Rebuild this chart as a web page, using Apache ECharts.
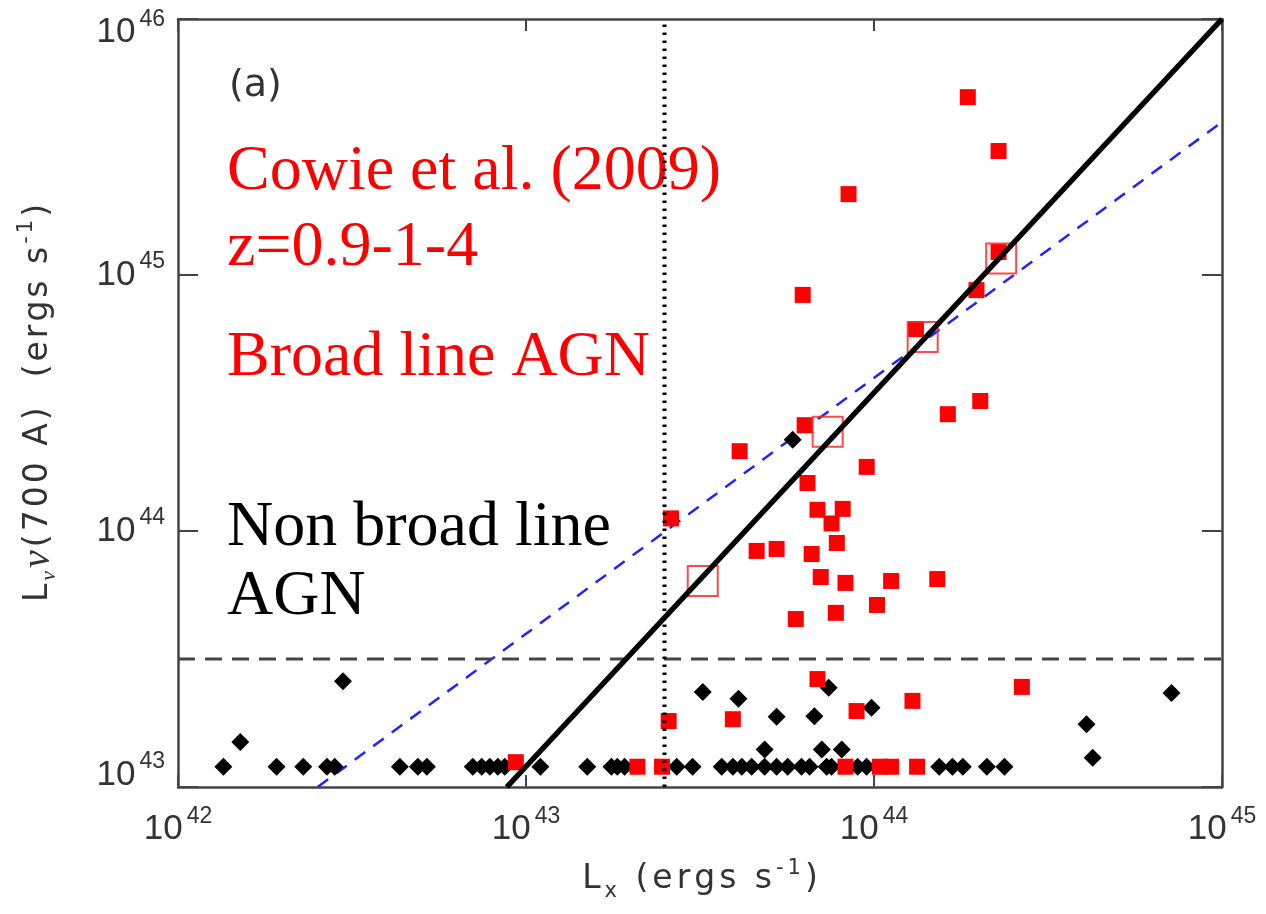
<!DOCTYPE html>
<html>
<head>
<meta charset="utf-8">
<script src="https://cdn.jsdelivr.net/npm/echarts@6/dist/echarts.min.js"></script>
<style>
html,body{margin:0;padding:0;background:#fff;}
#chart{width:1266px;height:914px;}
</style>
</head>
<body>
<div id="chart"></div>
<script>
// ---- data ----
const xTickExponents = [42, 43, 44, 45];
const yTickExponents = [43, 44, 45, 46];

// Broad line AGN (filled red squares): [Lx, Lnu(700A)]
const broadLineAGN = [
  [1.86e44, 4.95e45], [2.28e44, 3.05e45], [8.45e43, 2.07e45], [6.24e43, 8.36e44],
  [2.28e44, 1.23e45], [1.97e44, 8.73e44], [1.32e44, 6.15e44], [1.63e44, 2.86e44],
  [2.02e44, 3.22e44], [6.32e43, 2.59e44], [4.11e43, 2.05e44], [9.53e43, 1.78e44],
  [6.44e43, 1.54e44], [6.88e43, 1.21e44], [8.13e43, 1.22e44], [7.55e43, 1.07e44],
  [2.61e43, 1.12e44], [7.82e43, 8.98e43], [4.60e43, 8.36e43], [5.25e43, 8.51e43],
  [6.62e43, 8.13e43], [7.03e43, 6.61e43], [8.28e43, 6.27e43], [1.12e44, 6.38e43],
  [1.52e44, 6.49e43], [1.02e44, 5.14e43], [7.77e43, 4.79e43], [5.96e43, 4.53e43],
  [6.88e43, 2.64e43], [2.66e44, 2.46e43], [1.29e44, 2.17e43], [8.91e43, 1.98e43],
  [3.93e43, 1.84e43], [2.57e43, 1.81e43], [9.35e42, 1.25e43], [2.09e43, 1.2e43],
  [2.46e43, 1.2e43], [8.28e43, 1.2e43], [1.04e44, 1.2e43], [1.12e44, 1.2e43],
  [1.33e44, 1.2e43]
];

// Open red squares
const openSquares = [
  [3.22e43, 6.38e43], [7.36e43, 2.44e44], [1.38e44, 5.73e44], [2.32e44, 1.16e45]
];

// Non broad line AGN (black diamonds), off the floor
const nonBroadUpper = [
  [5.84e43, 2.27e44], [2.98e42, 2.59e43], [1.51e42, 1.50e43], [3.22e43, 2.35e43],
  [4.08e43, 2.21e43], [5.25e43, 1.88e43], [6.74e43, 1.89e43], [7.41e43, 2.44e43],
  [9.84e43, 2.04e43], [7.16e44, 2.33e43], [4.08e44, 1.76e43], [4.25e44, 1.30e43],
  [4.85e43, 1.40e43], [7.08e43, 1.40e43], [8.08e43, 1.40e43]
];
// Non broad line AGN on the floor level
const floorLevel = 1.2e43;
const nonBroadFloorX = [
  1.35e42, 1.92e42, 2.29e42, 2.68e42, 2.82e42, 4.34e42, 4.89e42, 5.19e42,
  7.03e42, 7.46e42, 7.87e42, 8.30e42, 8.69e42, 1.10e43, 1.50e43, 1.76e43,
  1.83e43, 1.92e43, 2.71e43, 3.01e43, 3.65e43, 3.93e43, 4.17e43, 4.45e43,
  4.85e43, 5.25e43, 5.65e43, 6.19e43, 6.53e43, 7.31e43, 7.55e43, 8.97e43,
  9.52e43, 1.54e44, 1.68e44, 1.80e44, 2.11e44, 2.37e44
];

// Reference lines
const solidRelation = [[8.81e42, 1e43], [1e45, 1e46]];
const blueDashed = [[2.52e42, 1e43], [1e45, 3.96e45]];
const verticalDotted = [[2.5e43, 1e43], [2.5e43, 1e46]];
const horizontalDashed = [[1e42, 3.16e43], [1e45, 3.16e43]];

// ---- chart ----
const nonBroadLineAGN = nonBroadUpper.concat(nonBroadFloorX.map(x => [x, floorLevel]));

const FONT = '"Liberation Sans", Arial, sans-serif';
const WIDE = '"DejaVu Sans", Verdana, sans-serif';
const SERIF = '"Liberation Serif", "Times New Roman", serif';
const labelColor = '#333';

const baseRich = {
  b: {fontSize: 35, fontFamily: FONT, color: labelColor},
  s: {fontSize: 23, fontFamily: FONT, color: labelColor, padding: [0, 0, 26, 4]},
  bl: {fontSize: 35, fontFamily: FONT, color: labelColor, padding: [0, 0, 24, 0]},
  sl: {fontSize: 23, fontFamily: FONT, color: labelColor, padding: [0, 0, 50, 4]},
  bh: {fontSize: 35, fontFamily: FONT, color: labelColor, padding: [27, 0, 0, 0]},
  sh: {fontSize: 23, fontFamily: FONT, color: labelColor, padding: [1, 0, 0, 4]}
};

function xLabel(v) {
  const e = Math.round(Math.log10(v));
  if (xTickExponents.indexOf(e) < 0) return '';
  return '{b|10}{s|' + e + '}';
}
function yLabel(v) {
  const e = Math.round(Math.log10(v));
  if (yTickExponents.indexOf(e) < 0) return '';
  if (e === yTickExponents[0]) return '{bl|10}{sl|' + e + '}';
  if (e === yTickExponents[yTickExponents.length - 1]) return '{bh|10}{sh|' + e + '}';
  return '{b|10}{s|' + e + '}';
}
// spread letters apart (the original uses a wide vector font)
function spaced(str, style) {
  return str.split('').map(ch => '{' + style + '|' + ch + '}').join('');
}

const axisLine = {show: true, lineStyle: {color: '#444', width: 2.5}};
const xMin = Math.pow(10, xTickExponents[0]), xMax = Math.pow(10, xTickExponents[xTickExponents.length - 1]);
const yMin = Math.pow(10, yTickExponents[0]), yMax = Math.pow(10, yTickExponents[yTickExponents.length - 1]);

const xName = spaced('L', 't') + spaced('x', 'sub') + spaced(' (ergs s', 't') + spaced('-1', 'sup') + spaced(')', 't');
const yName = spaced('L', 't') + spaced('ν', 'sub') + spaced('ν', 'nu') + spaced('(700 A)  (ergs s', 't') + spaced('-1', 'sup') + spaced(')', 't');

const chart = echarts.init(document.getElementById('chart'), null, {renderer: 'canvas'});
chart.setOption({
  animation: false,
  backgroundColor: '#fff',
  grid: {left: 178, top: 19, right: 44, bottom: 127, containLabel: false},
  xAxis: [{
    type: 'log', logBase: 10, min: xMin, max: xMax, position: 'bottom',
    axisLine: axisLine,
    axisTick: {show: true, inside: true, length: 12, lineStyle: {color: '#444', width: 2}},
    minorTick: {show: false},
    splitLine: {show: false},
    axisLabel: {formatter: xLabel, rich: baseRich, margin: 18},
    name: xName,
    nameLocation: 'middle', nameGap: 70,
    nameTextStyle: {
      rich: {
        t: {fontSize: 33, fontFamily: WIDE, color: labelColor, padding: [0, 2, 0, 2]},
        sub: {fontSize: 21, fontFamily: WIDE, color: labelColor, padding: [24, 2, 0, 2]},
        sup: {fontSize: 21, fontFamily: WIDE, color: labelColor, padding: [0, 2, 22, 2]}
      }
    }
  }, {
    type: 'log', logBase: 10, min: xMin, max: xMax, position: 'top',
    axisLine: axisLine,
    axisTick: {show: true, inside: true, length: 12, lineStyle: {color: '#444', width: 2}},
    splitLine: {show: false}, axisLabel: {show: false}
  }],
  yAxis: [{
    type: 'log', logBase: 10, min: yMin, max: yMax, position: 'left',
    axisLine: axisLine,
    axisTick: {show: true, inside: true, length: 20, lineStyle: {color: '#444', width: 2}},
    minorTick: {show: false},
    splitLine: {show: false},
    axisLabel: {formatter: yLabel, rich: baseRich, margin: 13},
    name: yName,
    nameLocation: 'middle', nameRotate: 90, nameGap: 118,
    nameTextStyle: {
      rich: {
        t: {fontSize: 33, fontFamily: WIDE, color: labelColor, padding: [0, 1.5, 0, 1.5]},
        nu: {fontSize: 40, fontFamily: SERIF, fontStyle: 'italic', color: labelColor, padding: [0, 1.5, 0, 1.5]},
        sub: {fontSize: 22, fontFamily: SERIF, fontStyle: 'italic', color: labelColor, padding: [22, 1.5, 0, 1.5]},
        sup: {fontSize: 21, fontFamily: WIDE, color: labelColor, padding: [0, 1.5, 22, 1.5]}
      }
    }
  }, {
    type: 'log', logBase: 10, min: yMin, max: yMax, position: 'right',
    axisLine: axisLine,
    axisTick: {show: true, inside: true, length: 20, lineStyle: {color: '#444', width: 2}},
    splitLine: {show: false}, axisLabel: {show: false}
  }],
  graphic: [
    {type: 'text', x: 229, y: 86, style: {text: '(a)', font: '38px ' + WIDE, fill: '#333', verticalAlign: 'middle'}},
    {type: 'text', x: 227, y: 172, style: {text: 'Cowie et al. (2009)', font: '64px ' + SERIF, fill: '#ff0000', verticalAlign: 'middle'}},
    {type: 'text', x: 227, y: 248, style: {text: 'z=0.9-1-4', font: '64px ' + SERIF, fill: '#ff0000', verticalAlign: 'middle'}},
    {type: 'text', x: 227, y: 358, style: {text: 'Broad line AGN', font: '64px ' + SERIF, fill: '#ff0000', verticalAlign: 'middle'}},
    {type: 'text', x: 227, y: 528, style: {text: 'Non broad line', font: '64px ' + SERIF, fill: '#000', verticalAlign: 'middle'}},
    {type: 'text', x: 227, y: 597, style: {text: 'AGN', font: '64px ' + SERIF, fill: '#000', verticalAlign: 'middle'}}
  ],
  series: [
    {type: 'line', data: blueDashed, symbol: 'none', silent: true, z: 1,
     lineStyle: {color: '#2222ff', width: 2.5, type: [13, 10]}},
    {type: 'scatter', data: nonBroadLineAGN, symbol: 'diamond', symbolSize: 18, z: 2,
     itemStyle: {color: '#000', opacity: 1}},
    {type: 'scatter', data: broadLineAGN, symbol: 'rect', symbolSize: 16, z: 3,
     itemStyle: {color: '#ff0000', opacity: 1}},
    {type: 'scatter', data: openSquares, symbol: 'rect', symbolSize: 30, z: 4,
     itemStyle: {color: 'rgba(0,0,0,0)', borderColor: 'rgba(255,40,40,0.85)', borderWidth: 2, opacity: 1}},
    {type: 'line', data: horizontalDashed, symbol: 'none', silent: true, z: 5,
     lineStyle: {color: '#444', width: 3, type: [17, 10]}},
    {type: 'line', data: verticalDotted, symbol: 'none', silent: true, z: 5,
     lineStyle: {color: '#000', width: 4, type: [2.5, 5.5]}},
    {type: 'line', data: solidRelation, symbol: 'none', silent: true, z: 6,
     lineStyle: {color: '#000', width: 5.5}}
  ]
});
</script>
</body>
</html>
